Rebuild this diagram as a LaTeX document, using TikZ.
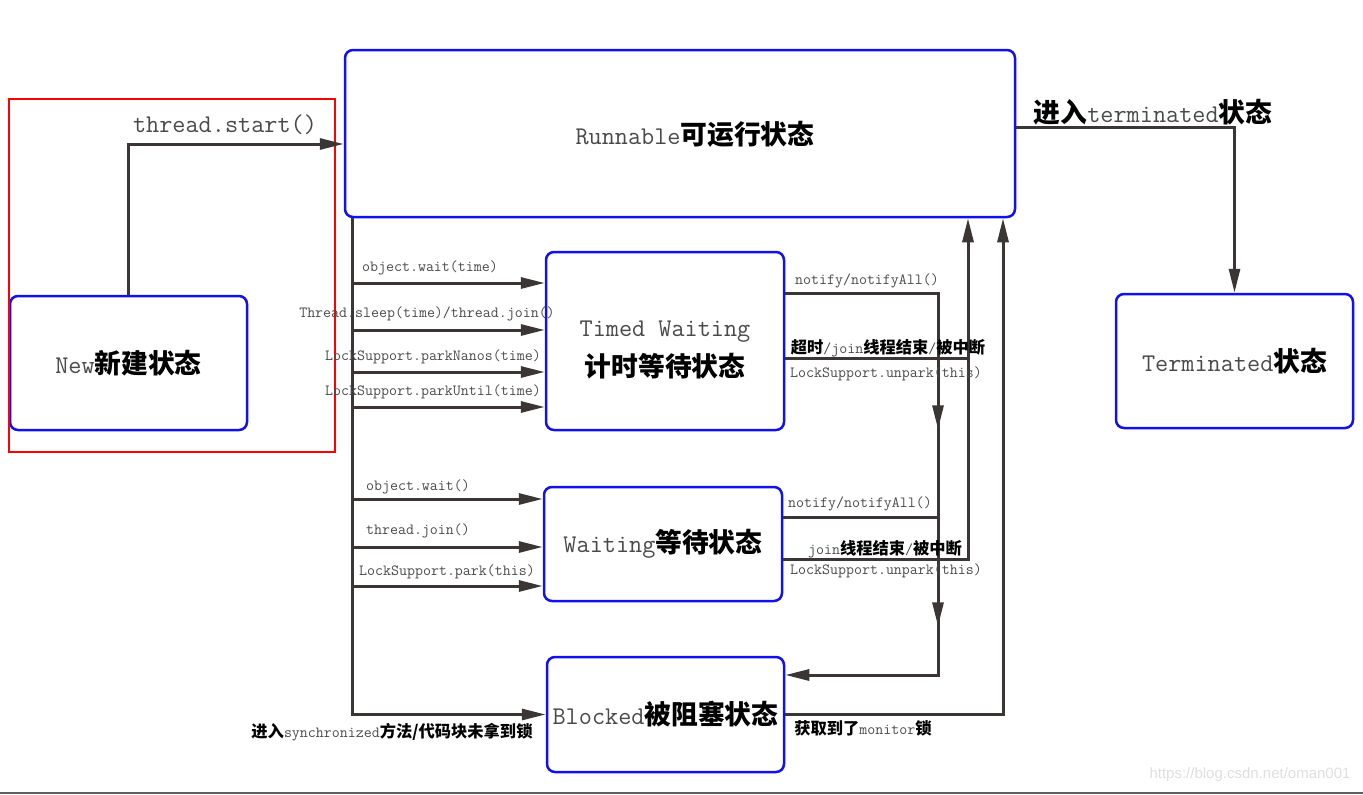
\documentclass[tikz,border=0pt]{standalone}
\usepackage{fontspec}
\newfontfamily\cjk{Noto Sans CJK SC}[Scale=1.05]
\newfontfamily\urlfont{Liberation Sans}
\usetikzlibrary{arrows.meta,decorations.markings}
\definecolor{linedark}{HTML}{3B3533}
\definecolor{txtgray}{HTML}{4A4A4A}
\definecolor{boxblue}{HTML}{1010F0}
\newcommand\zh[1]{{\cjk\bfseries\color{black}#1}}
\tikzset{
  state/.style={draw=boxblue, line width=2.5pt, rounded corners=8pt, fill=white,
    inner sep=0pt, font=\ttfamily\fontsize{25.5}{29}\selectfont, text=txtgray, align=center},
  conn/.style={draw=linedark, line width=3pt, -{Triangle[length=24pt,width=11pt]}},
  link/.style={draw=linedark, line width=3pt},
  midtip/.style={postaction={decorate, decoration={markings,
    mark=at position #1 with {\arrow{Triangle[length=24pt,width=11pt]}}}}},
  lbl/.style={font=\ttfamily\fontsize{15.5}{18}\selectfont, text=txtgray, inner sep=0pt},
  biglbl/.style={font=\ttfamily\fontsize{25.5}{29}\selectfont, text=txtgray, inner sep=0pt},
}
\begin{document}
\begin{tikzpicture}[x=1pt, y=-1pt]
  \useasboundingbox (0,0) rectangle (1363,795);

  % States
  \node[state, minimum width=670pt, minimum height=167pt] (run) at (680,133.5) {\hspace*{30pt}\rule{0pt}{24pt}Runnable\zh{可运行状态}};
  \node[state, minimum width=237pt, minimum height=134pt] (new) at (128.5,363) {New\zh{新建状态}};
  \node[state, minimum width=238pt, minimum height=178pt] (timed) at (665,341) {\rule{0pt}{34pt}Timed Waiting\\[10pt]\zh{计时等待状态}};
  \node[state, minimum width=238pt, minimum height=114pt] (wait) at (663,544) {Waiting\zh{等待状态}};
  \node[state, minimum width=237pt, minimum height=115pt] (block) at (665.5,714.5) {Blocked\zh{被阻塞状态}};
  \node[state, minimum width=237pt, minimum height=134pt] (term) at (1234.5,361) {Terminated\zh{状态}};

  % Highlight round New
  \draw[red, line width=2pt] (9,99) rectangle (335,452);

  % New -> Runnable
  \draw[conn] (new.north) |- ([yshift=-10.5pt]run.west);
  \node[biglbl] (startlbl) at (225,125) {thread.start()};

  % Runnable -> Terminated
  \draw[conn] ([yshift=6.5pt]run.east) -| (term.north);
  \node[biglbl] (termlbl) at (1153,112) {\zh{进入}terminated\zh{状态}};

  % Left trunk
  \coordinate (trunk) at (352,0);
  \draw[conn] (run.south -| trunk) |- (block.west);
  \node[lbl] (synclbl) at (392,732) {\zh{进入}synchronized\zh{方法/代码块未拿到锁}};

  \foreach \y/\lx/\ly/\txt in {283/430/268/object.wait(time),
      330/427/314/{Thread.sleep(time)/thread.join()},
      372/433/357/LockSupport.parkNanos(time),
      407/433/392/LockSupport.parkUntil(time)}{
    \draw[conn] (trunk |- 0,\y) -- (timed.west |- 0,\y);
    \node[lbl] (tl\y) at (\lx,\ly) {\txt};
  }
  \foreach \y/\lx/\ly/\txt in {499/418/487/object.wait(),
      547/418/531/thread.join(),
      586/447/572/LockSupport.park(this)}{
    \draw[conn] (trunk |- 0,\y) -- (wait.west |- 0,\y);
    \node[lbl] (wl\y) at (\lx,\ly) {\txt};
  }

  % Right buses
  \coordinate (busA) at (938,0);
  \coordinate (busB) at (968,0);
  \coordinate (busC) at (1003,0);

  \draw[conn, midtip=289pt, midtip=486pt] (timed.east |- 0,293) -| (busA |- 0,675) -- (block.east |- 0,675);
  \draw[link] (wait.east |- 0,517) -- (busA |- 0,517);

  \draw[conn] (timed.east |- 0,358) -| (run.south -| busB);
  \draw[link] (wait.east |- 0,559) -| (busB |- 0,358);

  \draw[conn] (block.east) -| (run.south -| busC);

  \node[lbl] (n1) at (867,281) {notify/notifyAll()};
  \node[lbl] (n2) at (888,348) {\zh{超时}/join\zh{线程结束}/\zh{被中断}};
  \node[lbl] (n3) at (886,374) {LockSupport.unpark(this)};
  \node[lbl] (n4) at (860,504) {notify/notifyAll()};
  \node[lbl] (n5) at (885,549) {join\zh{线程结束}/\zh{被中断}};
  \node[lbl] (n6) at (886,571) {LockSupport.unpark(this)};
  \node[lbl] (n7) at (863,728) {\zh{获取到了}monitor\zh{锁}};

  % Bottom edge and watermark
  \draw[linedark!80, line width=2pt] (0,793) -- (1363,793);
  \node[font=\urlfont\fontsize{15}{18}\selectfont, text=gray!25, inner sep=0pt] (mark) at (1250,775) {https://blog.csdn.net/oman001};
\end{tikzpicture}
\end{document}
